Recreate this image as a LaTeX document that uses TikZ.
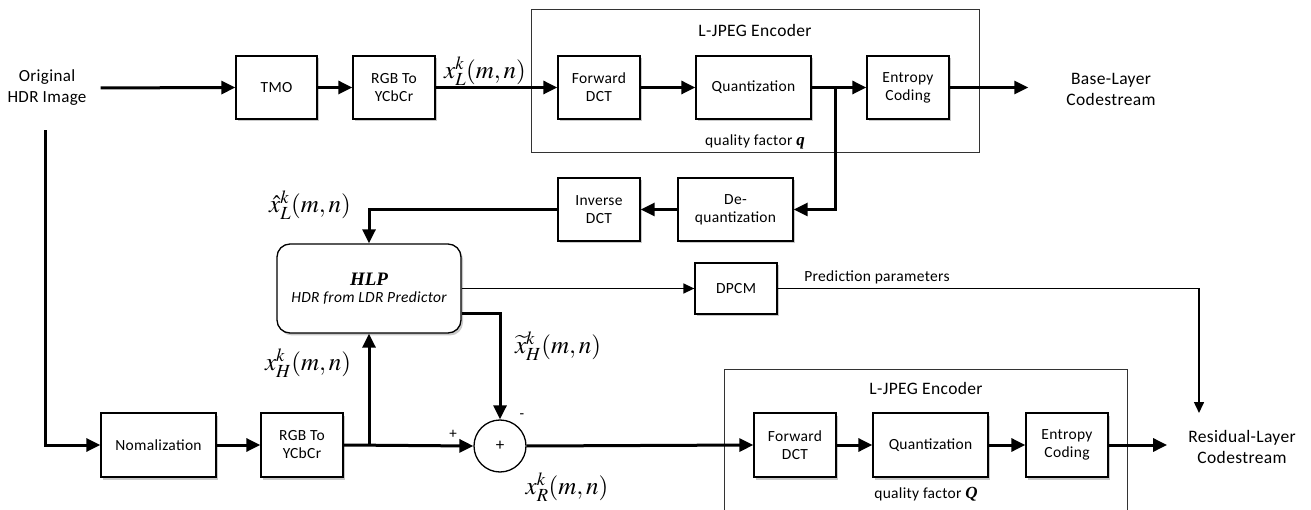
\documentclass[tikz,border=0pt]{standalone}
\usepackage{mathptmx}
\usepackage[no-math]{fontspec}
\setmainfont{Carlito}[LetterSpace=2]
\newfontfamily\tms{Liberation Serif}
\usetikzlibrary{arrows.meta,shadows}
\begin{document}
\begin{tikzpicture}[x=1pt,y=-1pt,
  box/.style={draw, line width=1.3pt, fill=white, minimum height=63pt, align=center,
    font=\fontsize{15.5}{18}\selectfont, inner sep=0pt,
    drop shadow={shadow xshift=2pt, shadow yshift=-2.5pt, opacity=0.3, fill=black!70}},
  frame/.style={draw=black!80, line width=1pt},
  lbl/.style={font=\fontsize{17}{21}\selectfont, align=center, inner sep=0pt},
  mlbl/.style={font=\fontsize{25}{28}\selectfont, inner sep=0pt},
  thk/.style={line width=3pt, -{Triangle[length=14pt,width=13pt]}},
  thn/.style={line width=1.5pt, -{Triangle[length=11pt,width=10pt]}},
]
\useasboundingbox (0,0) rectangle (1311,510);

% frames
\node[frame, minimum width=448pt, minimum height=143pt, inner sep=0pt] (enc1) at (755,81.5) {};
\draw[frame] (724,512) -- (724,369) -- (1127,369) -- (1127,512);

% top row
\node[lbl] (orig) at (47,88) {Original\\HDR Image};
\node[box, minimum width=81pt] (tmo) at (276.5,87.5) {TMO};
\node[box, minimum width=82pt] (rgb1) at (394,87.5) {RGB To\\YCbCr};
\node[box, minimum width=82pt] (fdct1) at (599,87.5) {Forward\\DCT};
\node[box, minimum width=115pt] (quant1) at (753.5,87.5) {Quantization};
\node[box, minimum width=82pt] (ent1) at (908,87.5) {Entropy\\Coding};
\node[lbl, font=\fontsize{17.5}{21}\selectfont] (base) at (1111,89) {Base-Layer\\Codestream};
\node[lbl, font=\fontsize{17.5}{21}\selectfont] (enc1t) at (755,30) {L-JPEG Encoder};
\node[lbl, font=\fontsize{15.5}{18}\selectfont] (q1) at (755,142) {quality factor {\tms\bfseries\itshape\fontsize{17}{18}\selectfont q}};

% second row
\node[box, minimum width=115pt] (dequant) at (735.5,209.5) {De-\\quantization};
\node[box, minimum width=82pt] (idct) at (599,209.5) {Inverse\\DCT};

% HLP
\node[box, minimum width=184pt, minimum height=89pt, rounded corners=13pt] (hlp) at (369,288.5)
  {{\tms\bfseries\itshape\fontsize{19}{21}\selectfont HLP}\\[-1pt]{\itshape HDR from LDR Predictor}};
\node[box, minimum width=82pt, minimum height=51pt] (dpcm) at (736,288.5) {DPCM};
\node[lbl, font=\fontsize{15.5}{18}\selectfont] (pp) at (877,277) {Prediction parameters};
\coordinate (ppend) at (1199,413);

% bottom row
\node[box, minimum width=115pt, minimum height=64pt] (norm) at (158.5,445) {Nomalization};
\node[box, minimum width=82pt, minimum height=64pt] (rgb2) at (302,445) {RGB To\\YCbCr};
\node[draw, circle, line width=1.3pt, fill=white, minimum size=52pt, inner sep=0pt,
  font=\fontsize{17}{18}\selectfont] (sum) at (500,446) {+};
\node[box, minimum width=82pt, minimum height=64pt] (fdct2) at (795,445) {Forward\\DCT};
\node[box, minimum width=115pt, minimum height=64pt] (quant2) at (930.5,445) {Quantization};
\node[box, minimum width=82pt, minimum height=64pt] (ent2) at (1067,445) {Entropy\\Coding};
\node[lbl, font=\fontsize{17.5}{21}\selectfont] (resid) at (1242,447) {Residual-Layer\\Codestream};
\node[lbl, font=\fontsize{17.5}{21}\selectfont] (enc2t) at (926,388) {L-JPEG Encoder};
\node[lbl, font=\fontsize{15.5}{18}\selectfont] (q2) at (926,494) {quality factor {\tms\bfseries\itshape\fontsize{17}{18}\selectfont Q}};

% math labels
\node[mlbl] (lxl) at (485,71) {$x_L^k(m,n)$};
\node[mlbl] (lxhat) at (310,205) {$\hat{x}_L^k(m,n)$};
\node[mlbl] (lxtil) at (558,346) {$\widetilde{x}_H^k(m,n)$};
\node[mlbl] (lxh) at (308,363) {$x_H^k(m,n)$};
\node[mlbl] (lxr) at (567,487) {$x_R^k(m,n)$};
\node[lbl, font=\fontsize{15}{16}\selectfont] (plus) at (453,434) {+};
\node[lbl, font=\fontsize{15}{16}\selectfont] (minus) at (522,416) {-};

% junctions
\coordinate (j1) at (835,87.5);
\coordinate (j2) at (369,446);

% connectors top
\draw[thk, shorten <=14pt] (orig.east) -- (tmo.west);
\draw[thk] (tmo) -- (rgb1);
\draw[thk] (rgb1) -- (fdct1);
\draw[thk] (fdct1) -- (quant1);
\draw[thk] (quant1) -- (ent1);
\draw[thk, shorten >=38pt] (ent1.east) -- (base.west |- ent1.east);
\draw[thk] (j1) |- (dequant.east);
\draw[thk] (dequant) -- (idct);
\draw[thk] (idct.west) -| (hlp.north);
\draw[thn] (hlp.east) -- (dpcm.west);
\draw[thn] (dpcm.east) -| (ppend);
\draw[thk] ([yshift=-25.5pt]hlp.east) -| (sum.north);

% connectors bottom
\draw[thk, shorten <=24pt] (orig.south -| 45,0) |- (norm.west);
\draw[thk] (norm) -- (rgb2);
\draw[thk] (rgb2.east) -- (sum.west);
\draw[thk] (j2) -- (hlp.south);
\draw[thk] (sum.east) -- (fdct2.west);
\draw[thk] (fdct2) -- (quant2);
\draw[thk] (quant2) -- (ent2);
\draw[thk, shorten >=21pt] (ent2.east) -- (resid.west |- ent2.east);
\end{tikzpicture}
\end{document}
